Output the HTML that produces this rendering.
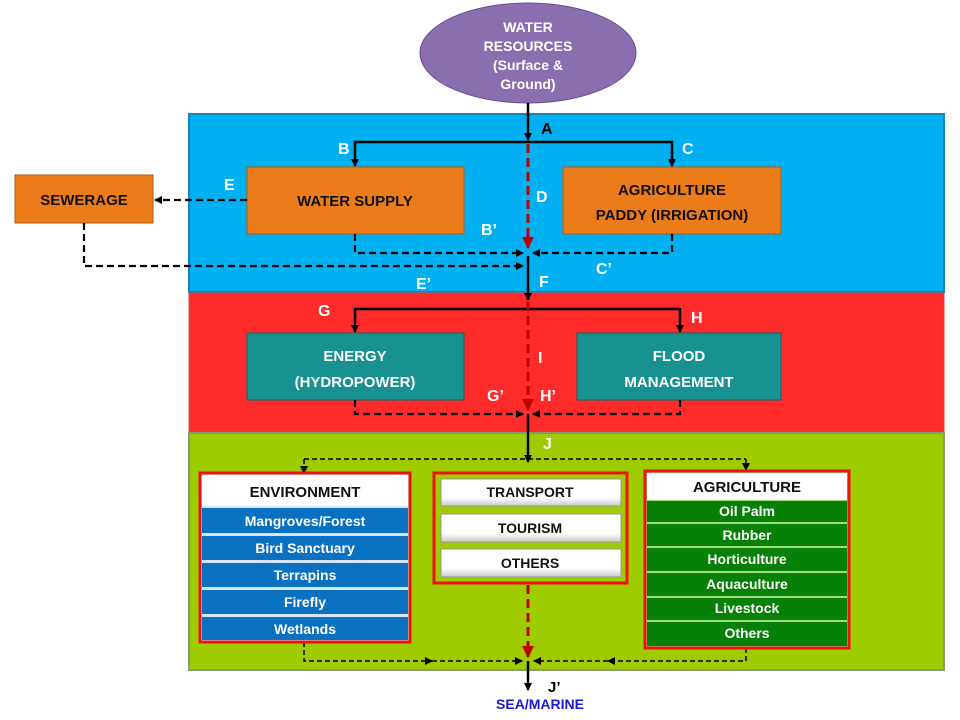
<!DOCTYPE html>
<html><head><meta charset="utf-8"><style>
body{margin:0;background:#fff}
svg{display:block;font-family:"Liberation Sans",sans-serif;font-weight:bold}
</style></head><body>
<svg width="960" height="720" viewBox="0 0 960 720" xmlns="http://www.w3.org/2000/svg">
<defs>
<marker id="ab" markerWidth="8" markerHeight="8" refX="7" refY="4" orient="auto" markerUnits="userSpaceOnUse"><path d="M0,0 L8,4 L0,8z" fill="#000"/></marker>
<marker id="ar" markerWidth="12" markerHeight="12" refX="11" refY="6" orient="auto" markerUnits="userSpaceOnUse"><path d="M0,0 L12,6 L0,12z" fill="#c00000"/></marker>
<marker id="abig" markerWidth="12" markerHeight="12" refX="11" refY="6" orient="auto" markerUnits="userSpaceOnUse"><path d="M0,1 L12,6 L0,11z" fill="#000"/></marker>
<linearGradient id="wg" x1="0" y1="0" x2="0" y2="1"><stop offset="0" stop-color="#fff"/><stop offset="0.7" stop-color="#fff"/><stop offset="1" stop-color="#c8c8c8"/></linearGradient>
</defs>
<!-- panels -->
<rect x="189" y="114" width="755" height="178" fill="#00b0f0" stroke="#1a7fc0" stroke-width="2"/>
<rect x="189" y="293" width="755" height="139" fill="#ff2a2a" stroke="#c0504d" stroke-width="1"/>
<rect x="189" y="433" width="755" height="237" fill="#9fcc00" stroke="#8a9a70" stroke-width="2"/>
<!-- ellipse -->
<ellipse cx="528" cy="53" rx="108" ry="50" fill="#8a6fb0" stroke="#6a5090" stroke-width="1"/>
<g fill="#fff" font-size="14" text-anchor="middle">
<text x="528" y="32">WATER</text><text x="528" y="51">RESOURCES</text><text x="528" y="70">(Surface &amp;</text><text x="528" y="89">Ground)</text></g>
<!-- boxes -->
<rect x="15" y="175" width="138" height="48" fill="#ec7c1a" stroke="#b05a10"/>
<rect x="247" y="167" width="217" height="67" fill="#ec7c1a" stroke="#b05a10"/>
<rect x="563" y="167" width="218" height="67" fill="#ec7c1a" stroke="#b05a10"/>
<rect x="247" y="333" width="217" height="67" fill="#179290" stroke="#0e6664"/>
<rect x="577" y="333" width="204" height="67" fill="#179290" stroke="#0e6664"/>
<g font-size="15" text-anchor="middle" fill="#111">
<text x="84" y="205">SEWERAGE</text>
<text x="355" y="206">WATER SUPPLY</text>
<text x="672" y="195">AGRICULTURE</text><text x="672" y="220">PADDY (IRRIGATION)</text></g>
<g font-size="15" text-anchor="middle" fill="#fff">
<text x="355" y="361">ENERGY</text><text x="355" y="387">(HYDROPOWER)</text>
<text x="679" y="361">FLOOD</text><text x="679" y="387">MANAGEMENT</text></g>
<!-- connectors blue -->
<g stroke="#000" stroke-width="2.5" fill="none">
<path d="M528,103 V140" marker-end="url(#ab)"/>
<path d="M528,142 H355 V166" marker-end="url(#ab)"/>
<path d="M528,142 H672 V166" marker-end="url(#ab)"/>
<path d="M528,256 V300" marker-end="url(#ab)"/>
<path d="M355,309 H680" /><path d="M355,308 V332" marker-end="url(#ab)"/><path d="M680,308 V332" marker-end="url(#ab)"/>
<path d="M528,414 V462" marker-end="url(#ab)"/>
<path d="M528,661 V690" marker-end="url(#ab)"/>
</g>
<g stroke="#c00000" stroke-width="3" stroke-dasharray="9,5" fill="none">
<path d="M528,144 V248" marker-end="url(#ar)"/>
<path d="M528,302 V410" marker-end="url(#ar)"/>
<path d="M528,585 V657" marker-end="url(#ar)"/>
</g>
<g stroke="#000" stroke-width="2.2" stroke-dasharray="7,4" fill="none">
<path d="M355,234 V253 H523" marker-end="url(#ab)"/>
<path d="M672,234 V253 H533" marker-end="url(#ab)"/>
<path d="M247,200 H155" marker-end="url(#ab)"/>
<path d="M84,223 V266 H523" marker-end="url(#ab)"/>
<path d="M355,400 V414 H523" marker-end="url(#ab)"/>
<path d="M680,400 V414 H533" marker-end="url(#ab)"/>
</g>
<g stroke="#000" stroke-width="1.5" stroke-dasharray="5,3" fill="none">
<path d="M304,459 H746"/><path d="M304,459 V473" marker-end="url(#ab)"/><path d="M746,459 V470" marker-end="url(#ab)"/>
<path d="M304,642 V661 H432" marker-end="url(#ab)"/><path d="M432,661 H522" marker-end="url(#ab)"/>
<path d="M746,648 V661 H608" marker-end="url(#ab)"/><path d="M608,661 H534" marker-end="url(#ab)"/>
</g>
<!-- letters -->
<g fill="#fff" font-size="16">
<text x="541" y="134" fill="#000">A</text><text x="338" y="154">B</text><text x="682" y="154">C</text>
<text x="536" y="202">D</text><text x="224" y="190">E</text><text x="481" y="235">B’</text>
<text x="596" y="274">C’</text><text x="416" y="289">E’</text><text x="539" y="287">F</text>
<text x="318" y="316">G</text><text x="691" y="323">H</text><text x="538" y="363">I</text>
<text x="487" y="401">G’</text><text x="540" y="401">H’</text><text x="543" y="449">J</text>
</g>
<!-- environment -->
<rect x="200" y="473" width="210" height="169" fill="#d6e6f4" stroke="#ee1111" stroke-width="3"/>
<rect x="202" y="475" width="206" height="31" fill="#fff"/>
<g fill="#0a70c0">
<rect x="202" y="508" width="206" height="25"/><rect x="202" y="536" width="206" height="24"/><rect x="202" y="563" width="206" height="24"/><rect x="202" y="590" width="206" height="24"/><rect x="202" y="617" width="206" height="23"/></g>
<text x="305" y="497" font-size="15" text-anchor="middle" fill="#111">ENVIRONMENT</text>
<g font-size="14" fill="#fff" text-anchor="middle">
<text x="305" y="526">Mangroves/Forest</text><text x="305" y="553">Bird Sanctuary</text><text x="305" y="580">Terrapins</text><text x="305" y="607">Firefly</text><text x="305" y="634">Wetlands</text></g>
<!-- middle -->
<rect x="434" y="473" width="193" height="110" fill="#9fcc00" stroke="#ee1111" stroke-width="3"/>
<g stroke="#999" fill="url(#wg)"><rect x="441" y="479" width="180" height="27"/><rect x="441" y="514" width="180" height="28"/><rect x="441" y="549" width="180" height="28"/></g>
<g font-size="14" text-anchor="middle" fill="#111"><text x="530" y="497">TRANSPORT</text><text x="530" y="533">TOURISM</text><text x="530" y="568">OTHERS</text></g>
<!-- agriculture -->
<rect x="645" y="471" width="204" height="177" fill="#9fdc80" stroke="#ee1111" stroke-width="3"/>
<rect x="647" y="473" width="200" height="27" fill="#fff"/>
<g fill="#078007">
<rect x="647" y="501" width="200" height="21"/><rect x="647" y="524" width="200" height="22"/><rect x="647" y="548" width="200" height="23"/><rect x="647" y="573" width="200" height="23"/><rect x="647" y="598" width="200" height="22"/><rect x="647" y="622" width="200" height="24"/></g>
<text x="747" y="492" font-size="15" text-anchor="middle" fill="#111">AGRICULTURE</text>
<g font-size="14" fill="#fff" text-anchor="middle">
<text x="747" y="516">Oil Palm</text><text x="747" y="540">Rubber</text><text x="747" y="564">Horticulture</text><text x="747" y="589">Aquaculture</text><text x="747" y="613">Livestock</text><text x="747" y="638">Others</text></g>
<text x="548" y="692" font-size="15" fill="#000">J’</text>
<text x="540" y="709" font-size="14" fill="#1a1ad0" text-anchor="middle">SEA/MARINE</text>
</svg>
</body></html>
